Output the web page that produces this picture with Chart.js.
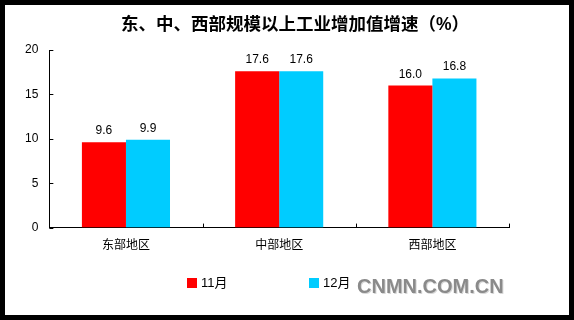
<!DOCTYPE html>
<html>
<head>
<meta charset="utf-8">
<script src="https://cdn.jsdelivr.net/npm/chart.js@4.4.0/dist/chart.umd.min.js"></script>
<style>
    html, body { margin: 0; padding: 0; background: #fff; }
    #frame { width: 574px; height: 320px; box-sizing: border-box; border: 5px solid #000; background: #fff; }
    #box { position: relative; width: 564px; height: 310px; }
</style>
</head>
<body>
<div id="frame"><div id="box"><canvas id="chart"></canvas></div></div>
<script>
// ----------------------------------------
// Data
// ----------------------------------------
var titleText = '东、中、西部规模以上工业增加值增速（%）';
var regions = ['东部地区', '中部地区', '西部地区'];
var seriesNames = ['11月', '12月'];
var nov = [9.6, 17.6, 16.0];
var dec = [9.9, 17.6, 16.8];
var yTicks = [0, 5, 10, 15, 20];
var watermark = 'CNMN.COM.CN';

var latin = '"Liberation Sans", Arial, "Noto Sans CJK SC", sans-serif';
var cjk = '"Liberation Sans", "Noto Sans CJK SC", sans-serif';

// title drawn centred over the picture
var topTitle = {
    id: 'topTitle',
    afterDraw: function (chart) {
        var ctx = chart.ctx;
        ctx.save();
        ctx.font = 'bold 17.5px ' + cjk;
        ctx.fillStyle = '#000';
        ctx.textAlign = 'center';
        ctx.textBaseline = 'middle';
        ctx.fillText(titleText, 290, 20);
        ctx.restore();
    }
};

// value labels above each bar
var valueLabels = {
    id: 'valueLabels',
    afterDatasetsDraw: function (chart) {
        var ctx = chart.ctx;
        ctx.save();
        ctx.font = '12px ' + latin;
        ctx.fillStyle = '#000';
        ctx.textAlign = 'center';
        ctx.textBaseline = 'alphabetic';
        chart.data.datasets.forEach(function (ds, i) {
            chart.getDatasetMeta(i).data.forEach(function (bar, j) {
                ctx.fillText(ds.data[j].toFixed(1), bar.x, bar.y - 8);
            });
        });
        ctx.restore();
    }
};

// short tick marks pointing into the plot
var innerTicks = {
    id: 'innerTicks',
    afterDraw: function (chart) {
        var ctx = chart.ctx;
        var x = chart.scales.x, y = chart.scales.y;
        ctx.save();
        ctx.strokeStyle = '#000';
        ctx.lineWidth = 1;
        ctx.beginPath();
        y.ticks.forEach(function (t) {
            var py = Math.round(y.getPixelForValue(t.value)) + 0.5;
            ctx.moveTo(x.left, py);
            ctx.lineTo(x.left + 4, py);
        });
        var step = (x.right - x.left) / regions.length;
        for (var k = 1; k <= regions.length; k++) {
            var px = Math.round(x.left + step * k) + 0.5;
            ctx.moveTo(px, y.bottom);
            ctx.lineTo(px, y.bottom - 4);
        }
        ctx.stroke();
        ctx.restore();
    }
};

// legend and watermark at the bottom
var bottomLegend = {
    id: 'bottomLegend',
    afterDraw: function (chart) {
        var ctx = chart.ctx;
        var xs = [182, 304];
        ctx.save();
        ctx.font = '13px ' + cjk;
        ctx.textBaseline = 'middle';
        chart.data.datasets.forEach(function (ds, i) {
            ctx.fillStyle = ds.backgroundColor;
            ctx.fillRect(xs[i], 273, 10, 10);
            ctx.fillStyle = '#000';
            ctx.fillText(ds.label, xs[i] + 14, 278.5);
        });
        ctx.font = 'bold 20px ' + latin;
        ctx.textBaseline = 'alphabetic';
        ctx.fillStyle = '#d8d8d8';
        ctx.fillText(watermark, 353, 289);
        ctx.fillStyle = '#8a8a8a';
        ctx.fillText(watermark, 352, 288);
        ctx.restore();
    }
};

var ctx = document.getElementById('chart').getContext('2d');
var chart = new Chart(ctx, {
    type: 'bar',
    data: {
        labels: regions,
        datasets: [{
            label: seriesNames[0],
            data: nov,
            backgroundColor: '#FF0000',
            categoryPercentage: 0.575,
            barPercentage: 1.0
        }, {
            label: seriesNames[1],
            data: dec,
            backgroundColor: '#00CCFF',
            categoryPercentage: 0.575,
            barPercentage: 1.0
        }]
    },
    options: {
        responsive: true,
        maintainAspectRatio: false,
        animation: false,
        layout: { padding: { left: 9, right: 60, top: 45, bottom: 51 } },
        plugins: {
            legend: { display: false },
            tooltip: { enabled: false },
            title: { display: false }
        },
        scales: {
            x: {
                grid: { display: false, drawTicks: false },
                border: { display: true, color: '#000', width: 1 },
                ticks: { color: '#000', padding: 11, font: { family: cjk, size: 12 } }
            },
            y: {
                min: 0,
                max: 20,
                afterBuildTicks: function (scale) {
                    scale.ticks = yTicks.map(function (v) { return { value: v }; });
                },
                grid: { display: false, drawTicks: false },
                border: { display: true, color: '#000', width: 1 },
                ticks: { color: '#000', padding: 11, font: { family: latin, size: 12 } }
            }
        }
    },
    plugins: [topTitle, valueLabels, innerTicks, bottomLegend]
});
</script>
</body>
</html>
